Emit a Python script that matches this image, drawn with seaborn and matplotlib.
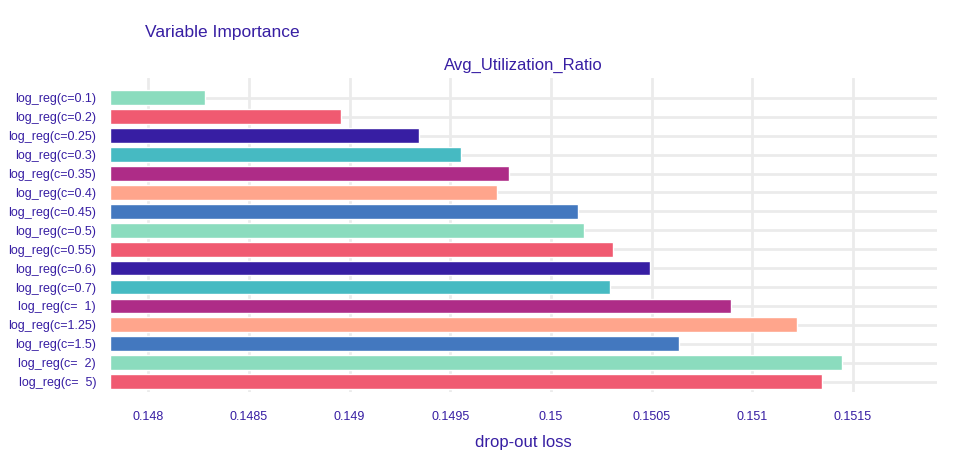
import matplotlib
matplotlib.use("Agg")
import matplotlib.pyplot as plt
import seaborn as sns
import pandas as pd

models = ["log_reg(c=0.1)", "log_reg(c=0.2)", "log_reg(c=0.25)", "log_reg(c=0.3)",
          "log_reg(c=0.35)", "log_reg(c=0.4)", "log_reg(c=0.45)", "log_reg(c=0.5)",
          "log_reg(c=0.55)", "log_reg(c=0.6)", "log_reg(c=0.7)", "log_reg(c=  1)",
          "log_reg(c=1.25)", "log_reg(c=1.5)", "log_reg(c=  2)", "log_reg(c=  5)"]
loss = [0.148283, 0.148958, 0.149346, 0.149554, 0.149792, 0.149733, 0.150135, 0.150165,
        0.150309, 0.150493, 0.150294, 0.150895, 0.151222, 0.150637, 0.151446, 0.151347]
palette7 = ["#8bdcbe", "#f05a71", "#371ea3", "#46bac2", "#ae2c87", "#ffa58c", "#4378bf"]
ticks = [0.148, 0.1485, 0.149, 0.1495, 0.15, 0.1505, 0.151, 0.1515]
tick_labels = ["0.148", "0.1485", "0.149", "0.1495", "0.15", "0.1505", "0.151", "0.1515"]
baseline = 0.14781

sns.set_style("white")
plt.rcParams['font.family'] = ['Liberation Sans', 'DejaVu Sans']
txt = "#371ea3"

df = pd.DataFrame({"model": models, "width": [v - baseline for v in loss]})
colors = [palette7[i % 7] for i in range(len(models))]

fig = plt.figure(figsize=(9.66, 4.73), dpi=100)
ax = fig.add_axes([110/966, 1-392/473, (937-110)/966, (392-78)/473])
sns.barplot(data=df, y="model", x="width", hue="model", palette=colors, left=baseline,
            orient="h", width=0.78, legend=False, ax=ax, zorder=3, saturation=1)
ax.set_xlim(baseline, 0.151918)
ax.set_ylim(len(models) - 0.5 + 0.05, -0.5 - 0.55)
ax.set_xticks(ticks)
ax.set_xticklabels(tick_labels)
for x in ticks:
    ax.axvline(x, color="#ebebeb", lw=2, zorder=0)
for i in range(len(models)):
    ax.axhline(i, color="#ebebeb", lw=2, zorder=0)
for s in ax.spines.values():
    s.set_visible(False)
ax.tick_params(axis="both", length=0, labelsize=9, colors=txt, pad=10)
ax.tick_params(axis="x", pad=14)
ax.set_ylabel("")
ax.set_xlabel("drop-out loss", color=txt, fontsize=12, labelpad=8)
ax.set_title("Avg_Utilization_Ratio", color=txt, fontsize=12, pad=6)
fig.text(145/966, 1-33/473, "Variable Importance", color=txt, fontsize=12.5, va="center")
fig.savefig("out.png", dpi=100)
